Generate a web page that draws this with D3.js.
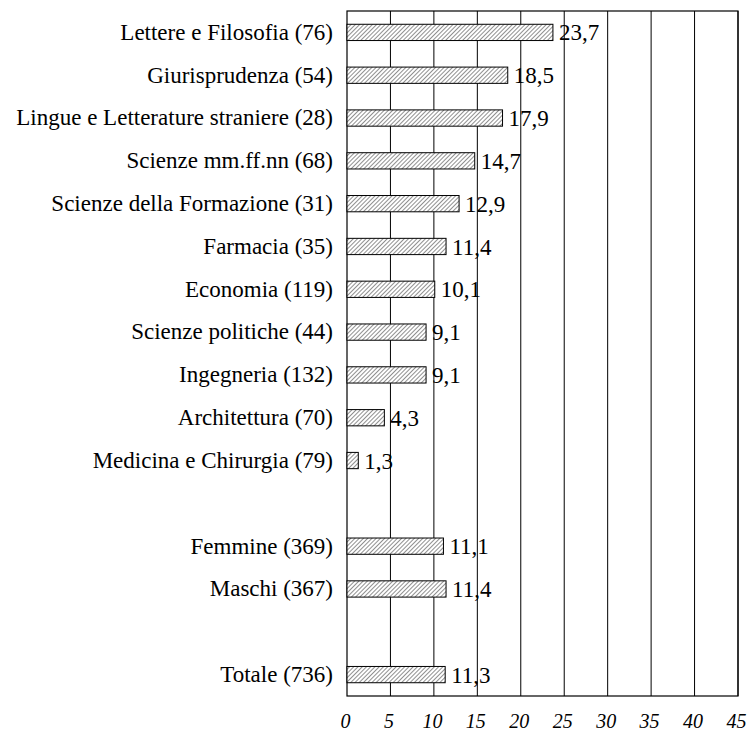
<!DOCTYPE html>
<html>
<head>
<meta charset="utf-8">
<script src="https://cdn.jsdelivr.net/npm/d3@7"></script>
<style>
  body { margin: 0; background: #fff; }
  text { font-family: "Liberation Serif", "Times New Roman", serif; }
</style>
</head>
<body>
<div id="chart"></div>
<script>
// categories, blanks are spacer rows
const categories = [
  "Lettere e Filosofia (76)", "Giurisprudenza (54)", "Lingue e Letterature straniere (28)",
  "Scienze mm.ff.nn (68)", "Scienze della Formazione (31)", "Farmacia (35)",
  "Economia (119)", "Scienze politiche (44)", "Ingegneria (132)", "Architettura (70)",
  "Medicina e Chirurgia (79)", "", "Femmine (369)", "Maschi (367)", " ", "Totale (736)"
];
const values = [23.7, 18.5, 17.9, 14.7, 12.9, 11.4, 10.1, 9.1, 9.1, 4.3, 1.3, null, 11.1, 11.4, null, 11.3];
const xTicks = [0, 5, 10, 15, 20, 25, 30, 35, 40, 45];

const margin = {top: 11, right: 10, bottom: 40, left: 347},
      width = 748 - margin.left - margin.right,
      height = 736 - margin.top - margin.bottom;

const svg = d3.select("#chart")
  .append("svg")
  .attr("width", 748)
  .attr("height", 736);

// hatch pattern
const defs = svg.append("defs");
const pat = defs.append("pattern")
  .attr("id", "hatch")
  .attr("patternUnits", "userSpaceOnUse")
  .attr("width", 3).attr("height", 3)
  .attr("patternTransform", "rotate(45)");
pat.append("rect").attr("width", 3).attr("height", 3).attr("fill", "#fff");
pat.append("line")
  .attr("x1", 0).attr("y1", 0).attr("x2", 0).attr("y2", 3)
  .attr("stroke", "#333").attr("stroke-width", 1.1);

const g = svg.append("g")
  .attr("transform", `translate(${margin.left}, ${margin.top})`);

const x = d3.scaleLinear().domain([0, 45]).range([0, width]);
const y = d3.scaleBand().domain(categories).range([0, height]).paddingInner(0.62).paddingOuter(0.31);

// grid lines
g.selectAll(".grid")
  .data(xTicks.slice(1))
  .join("line")
  .attr("x1", d => x(d)).attr("x2", d => x(d))
  .attr("y1", 0).attr("y2", height)
  .attr("stroke", "#000").attr("stroke-width", 1);

g.append("rect")
  .attr("width", width).attr("height", height)
  .attr("fill", "none").attr("stroke", "#000").attr("stroke-width", 1.2);

// x axis
const xAxis = g.append("g")
  .attr("transform", `translate(0, ${height})`)
  .call(d3.axisBottom(x).tickValues(xTicks).tickSize(0).tickPadding(18));
xAxis.select(".domain").remove();
xAxis.selectAll("text")
  .attr("font-size", 20).attr("font-style", "italic")
  .attr("font-family", "Liberation Serif").attr("fill", "#000")
  .attr("dx", -2);

// y axis labels
const yAxis = g.append("g")
  .call(d3.axisLeft(y).tickSize(0).tickPadding(14));
yAxis.select(".domain").remove();
yAxis.selectAll("text")
  .attr("font-size", 23).attr("font-family", "Liberation Serif").attr("fill", "#000");

const rows = categories.map((c, i) => ({c, v: values[i]})).filter(d => d.v != null);

g.selectAll(".bar")
  .data(rows)
  .join("rect")
  .attr("x", 0)
  .attr("y", d => y(d.c))
  .attr("width", d => x(d.v))
  .attr("height", y.bandwidth())
  .attr("fill", "url(#hatch)")
  .attr("stroke", "#000").attr("stroke-width", 1);

g.selectAll(".val")
  .data(rows)
  .join("text")
  .attr("x", d => x(d.v) + 6)
  .attr("y", d => y(d.c) + y.bandwidth() / 2)
  .attr("dy", "0.35em")
  .attr("font-size", 23)
  .text(d => d3.format(".1f")(d.v).replace(".", ","));
</script>
</body>
</html>
